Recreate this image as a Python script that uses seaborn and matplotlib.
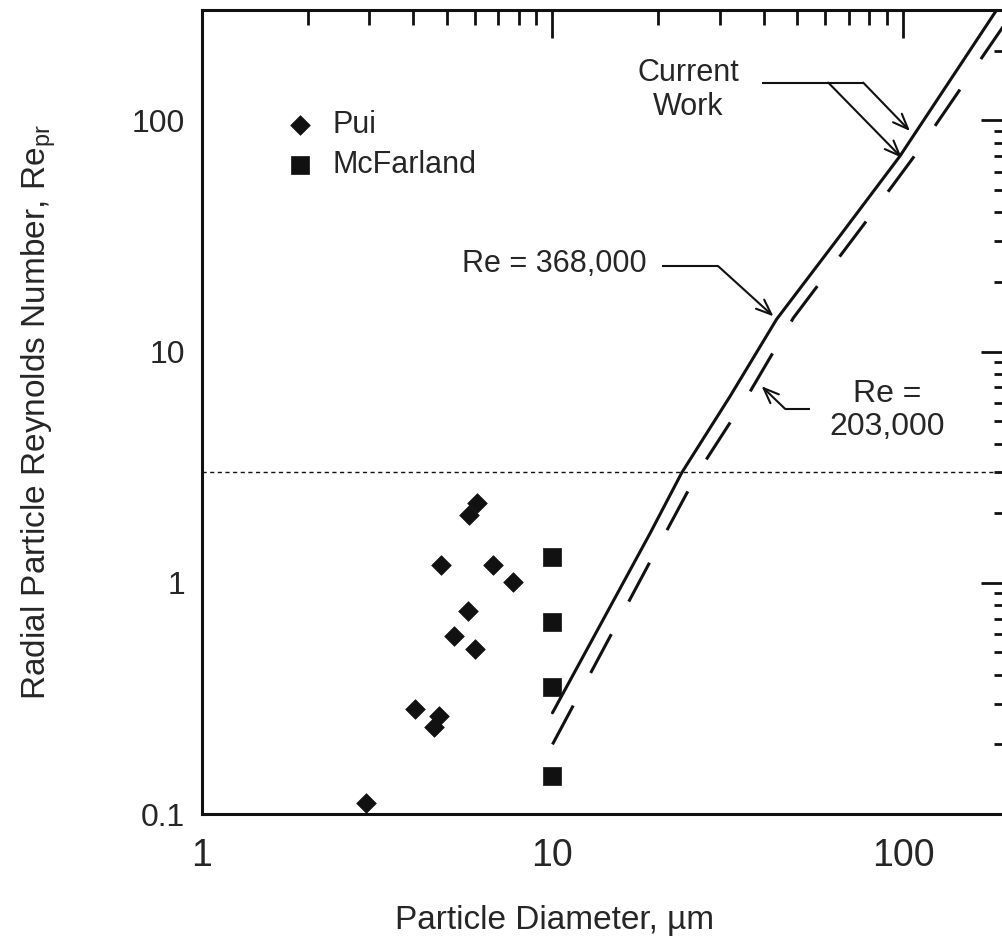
import matplotlib
matplotlib.use("Agg")
import matplotlib.pyplot as plt
import pandas as pd
import seaborn as sns

# Measured particle Reynolds numbers
pui_diameter = [6.10, 5.79, 4.81, 6.78, 7.70, 5.75, 5.24, 6.01, 4.05, 4.75, 4.60, 2.94]
pui_re = [2.22, 1.97, 1.19, 1.19, 1.01, 0.758, 0.59, 0.516, 0.285, 0.265, 0.239, 0.112]

mcfarland_diameter = [10, 10, 10, 10]
mcfarland_re = [1.29, 0.675, 0.353, 0.146]

# Current work, two flow Reynolds numbers
re368_diameter = [10, 19, 23.4, 32.1, 43.6, 65.4, 98, 185]
re368_value = [0.274, 1.64, 3.0, 6.4, 13.8, 31, 70, 300]

re203_diameter = [10, 18.8, 26, 36.6, 48.7, 77.9, 107, 195]
re203_value = [0.20, 1.2, 3.0, 6.7, 14.0, 36, 69, 260]

threshold_re = 3.0

x_ticks = [1, 10, 100]
x_tick_labels = ["1", "10", "100"]
y_ticks = [0.1, 1, 10, 100]
y_tick_labels = ["0.1", "1", "10", "100"]

sns.set_style("white")
plt.rcParams["font.family"] = ["Liberation Sans", "DejaVu Sans"]
plt.rcParams["mathtext.default"] = "regular"

ink = "#111111"

fig = plt.figure(figsize=(10.02, 9.52), dpi=100)
ax = fig.add_axes([202 / 1002, 138 / 952, 806.5 / 1002, 804 / 952])

pui = pd.DataFrame({"d": pui_diameter, "re": pui_re})
mcf = pd.DataFrame({"d": mcfarland_diameter, "re": mcfarland_re})

sns.scatterplot(data=pui, x="d", y="re", marker="D", s=100, color=ink,
                edgecolor=ink, linewidth=0.5, label="Pui", ax=ax, zorder=4)
sns.scatterplot(data=mcf, x="d", y="re", marker="s", s=165, color=ink,
                edgecolor=ink, linewidth=0.5, label="McFarland", ax=ax, zorder=4)

sns.lineplot(x=re368_diameter, y=re368_value, color=ink, lw=2.2,
             estimator=None, sort=False, ax=ax, zorder=3)
sns.lineplot(x=re203_diameter, y=re203_value, color=ink, lw=2.2,
             linestyle=(0, (14.4, 12.1)), estimator=None, sort=False,
             ax=ax, zorder=3)

ax.axhline(threshold_re, color=ink, lw=1.0, linestyle=(0, (3, 2.5)), zorder=2)

ax.set_xscale("log")
ax.set_yscale("log")
ax.set_xlim(1, 200)
ax.set_ylim(0.1, 300)

ax.set_xticks(x_ticks, labels=x_tick_labels)
ax.set_yticks(y_ticks, labels=y_tick_labels)
ax.xaxis.set_minor_formatter(plt.NullFormatter())
ax.yaxis.set_minor_formatter(plt.NullFormatter())

ax.tick_params(which="both", direction="in", top=True, right=True, color=ink)
ax.tick_params(which="major", length=20, width=2)
ax.tick_params(which="minor", length=11, width=2)
ax.tick_params(axis="x", which="major", labelsize=27, pad=17)
ax.tick_params(axis="y", which="major", labelsize=23, pad=12)

for spine in ax.spines.values():
    spine.set_linewidth(2.2)
    spine.set_color(ink)

ax.set_xlabel("Particle Diameter, µm", fontsize=24)
ax.set_ylabel("Radial Particle Reynolds Number, Re$_{pr}$", fontsize=24)
ax.xaxis.set_label_coords(0.4377, -0.113)
ax.yaxis.set_label_coords(-0.178, 0.5)
ax.xaxis.label.set_va("top")

ax.legend(loc="center left", bbox_to_anchor=(0.1025, 0.832), frameon=False,
          fontsize=22, handlelength=1.0, handletextpad=0.58, borderpad=0,
          labelspacing=0.3, borderaxespad=0)

arrow = dict(arrowstyle="->,head_length=0.5,head_width=0.2", lw=1.5,
             color=ink, mutation_scale=22, shrinkA=0, shrinkB=0)
leader = dict(color=ink, lw=1.5, solid_capstyle="butt")

# Current work callout
ax.text(24.4, 135, "Current\nWork", ha="center", va="center", fontsize=22,
        linespacing=1.15)
ax.plot([39.5, 77.0], [145.6, 145.6], **leader)
ax.annotate("", xy=(104.7, 89.9), xytext=(77.0, 145.6), arrowprops=arrow)
ax.annotate("", xy=(99.2, 68.9), xytext=(61.2, 145.6), arrowprops=arrow)

# Re = 368,000 callout
ax.text(18.6, 22.0, "Re = 368,000", ha="right", va="baseline", fontsize=22)
ax.plot([20.5, 29.7], [23.4, 23.4], **leader)
ax.annotate("", xy=(42.7, 14.2), xytext=(29.7, 23.4), arrowprops=arrow)

# Re = 203,000 callout
ax.text(90.0, 5.55, "Re =\n203,000", ha="center", va="center", fontsize=23,
        linespacing=1.15)
ax.plot([46.1, 54.3], [5.65, 5.65], **leader)
ax.annotate("", xy=(39.5, 7.08), xytext=(46.1, 5.65), arrowprops=arrow)

fig.savefig("out.png", dpi=100)
